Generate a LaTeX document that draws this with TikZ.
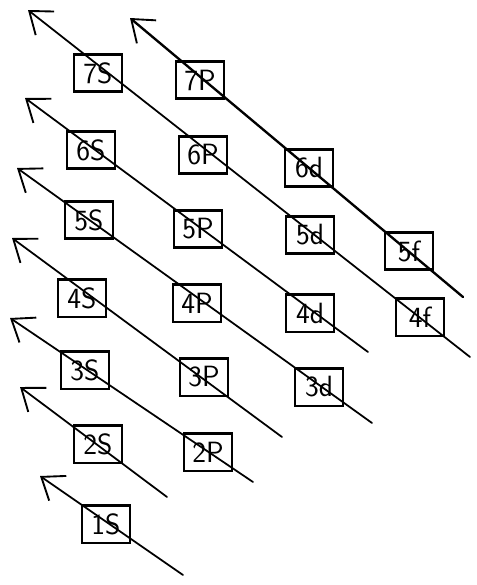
\documentclass[tikz,border=0pt]{standalone}
\usepackage{tikz}
\usetikzlibrary{arrows.meta}

\begin{document}
\begin{tikzpicture}[
  x=0.03cm, y=-0.03cm,
  font=\sffamily\fontsize{25}{27}\selectfont,
  orb/.style={draw, line width=2pt, minimum width=1.45cm, minimum height=1.12cm, inner sep=0pt},
  fill arr/.style={line width=1.5pt, line cap=round, -{Straight Barb[length=6mm, width=9mm, line width=1.6pt]}}
]
\useasboundingbox (0,0) rectangle (477,585);

% orbital boxes
\node[orb] (s7) at (98,73) {7S};
\node[orb] (p7) at (200,80) {7P};
\node[orb] (s6) at (91,150) {6S};
\node[orb] (p6) at (203,155) {6P};
\node[orb] (d6) at (309,168) {6d};
\node[orb] (s5) at (89,220) {5S};
\node[orb] (p5) at (198,229) {5P};
\node[orb] (d5) at (310,235) {5d};
\node[orb] (f5) at (409,251) {5f};
\node[orb] (s4) at (82,298) {4S};
\node[orb] (p4) at (197,303) {4P};
\node[orb] (d4) at (310,313) {4d};
\node[orb] (f4) at (420,317) {4f};
\node[orb] (s3) at (85,370) {3S};
\node[orb] (p3) at (204,377) {3P};
\node[orb] (d3) at (319,387) {3d};
\node[orb] (s2) at (98,444) {2S};
\node[orb] (p2) at (208,452) {2P};
\node[orb] (s1) at (106,524) {1S};

% arrow ends
\coordinate (t1) at (183,575); \coordinate (h1) at (40,476);
\coordinate (t2) at (167,497); \coordinate (h2) at (20,387);
\coordinate (t3) at (253,482); \coordinate (h3) at (10,318);
\coordinate (t4) at (282,437); \coordinate (h4) at (12,238);
\coordinate (t5) at (372,423); \coordinate (h5) at (17,168);
\coordinate (t6) at (368,352); \coordinate (h6) at (25,98);
\coordinate (t7) at (470,357); \coordinate (h7) at (28,10);
\coordinate (t8) at (463,297); \coordinate (h8) at (130,18);

% filling order
\draw[fill arr] (t1) -- (h1);
\draw[fill arr] (t2) -- (h2);
\draw[fill arr] (t3) -- (h3);
\draw[fill arr] (t4) -- (h4);
\draw[fill arr] (t5) -- (h5);
\draw[fill arr] (t6) -- (h6);
\draw[fill arr] (t7) -- (h7);
\draw[fill arr, line width=2pt] (t8) -- (h8);

\end{tikzpicture}
\end{document}
